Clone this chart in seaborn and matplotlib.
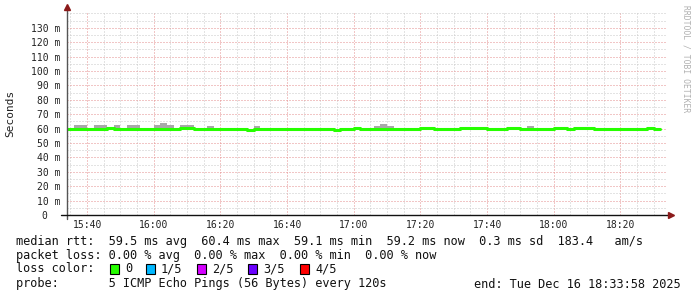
import matplotlib
matplotlib.use("Agg")
import matplotlib.pyplot as plt
import matplotlib.dates as mdates
from matplotlib.patches import Rectangle
import seaborn as sns
import pandas as pd
import numpy as np

# ---- data (ms), one value per 2-minute step ----
median_rtt = [
    59.9, 59.9, 59.9, 59.9, 59.9, 59.9, 60.4, 59.9, 59.9, 59.9,
    59.9, 59.9, 59.9, 59.9, 59.9, 59.9, 59.9, 60.4, 60.4, 59.9,
    59.9, 59.9, 59.9, 59.9, 59.9, 59.9, 59.9, 59.1, 59.9, 59.9,
    59.9, 59.9, 59.9, 59.9, 59.9, 59.9, 59.9, 59.9, 59.9, 59.9,
    59.1, 59.9, 59.9, 60.4, 59.9, 59.9, 59.9, 59.9, 59.9, 59.9,
    59.9, 59.9, 59.9, 60.4, 60.4, 59.9, 59.9, 59.9, 59.9, 60.4,
    60.4, 60.4, 60.4, 59.9, 59.9, 59.9, 60.4, 60.4, 59.9, 59.9,
    59.9, 59.9, 59.9, 60.4, 60.4, 59.9, 60.4, 60.4, 60.4, 59.9,
    59.9, 59.9, 59.9, 59.9, 59.9, 59.9, 59.9, 60.4, 59.9,
]
smoke_high = [
    60.7, 62.2, 62.2, 60.7, 62.2, 62.2, 61.2, 62.2, 60.7, 62.2,
    62.2, 60.7, 60.7, 62.2, 64.2, 62.2, 60.7, 62.4, 62.4, 60.7,
    60.7, 61.9, 60.7, 60.7, 60.7, 60.7, 60.7, 59.9, 61.9, 60.7,
    60.7, 60.7, 60.7, 60.7, 60.7, 60.7, 60.7, 60.7, 60.7, 60.7,
    59.9, 60.7, 60.7, 61.2, 60.7, 60.7, 61.9, 62.9, 61.9, 60.7,
    60.7, 60.7, 60.7, 61.2, 61.2, 60.7, 60.7, 60.7, 60.7, 61.2,
    61.2, 61.2, 61.2, 60.7, 60.7, 60.7, 61.2, 61.2, 60.7, 61.9,
    60.7, 60.7, 60.7, 61.2, 61.2, 60.7, 61.2, 61.2, 61.2, 60.7,
    60.7, 60.7, 60.7, 60.7, 60.7, 60.7, 60.7, 61.2, 60.7,
]
data_start = "2025-12-16 15:34:00"
view_start = "2025-12-16 15:33:58"
view_end = "2025-12-16 18:33:58"

y_major = [0, 10, 20, 30, 40, 50, 60, 70, 80, 90, 100, 110, 120, 130]
y_labels = ["0  ", "10 m", "20 m", "30 m", "40 m", "50 m", "60 m", "70 m",
            "80 m", "90 m", "100 m", "110 m", "120 m", "130 m"]
y_minor = [5, 15, 25, 35, 45, 55, 65, 75, 85, 95, 105, 115, 125, 135, 140]

legend_rows = [
    "median rtt:  59.5 ms avg  60.4 ms max  59.1 ms min  59.2 ms now  0.3 ms sd  183.4   am/s",
    "packet loss: 0.00 % avg  0.00 % max  0.00 % min  0.00 % now",
]
loss_labels = ["0", "1/5", "2/5", "3/5", "4/5"]
loss_colors = ["#26ff00", "#00b8ff", "#d400ff", "#6a00ff", "#ff0000"]
probe_text = "probe:       5 ICMP Echo Pings (56 Bytes) every 120s"
end_text = "end: Tue Dec 16 18:33:58 2025"

# ---- figure ----
sns.set_style("white")
plt.rcParams["font.family"] = ["DejaVu Sans Mono", "DejaVu Sans"]
W, H = 697, 297
fig = plt.figure(figsize=(W / 100, H / 100), dpi=100)
L, R, T, B = 67, 667, 13, 215
ax = fig.add_axes([L / W, 1 - B / H, (R - L) / W, (B - T) / H])

times = pd.date_range(data_start, periods=len(median_rtt) + 1, freq="2min")
med_ext = median_rtt + [median_rtt[-1]]
hi_ext = smoke_high + [smoke_high[-1]]
df = pd.DataFrame({"time": times, "median": med_ext, "high": hi_ext})

ax.fill_between(df["time"], df["median"], df["high"], step="post",
                color="#a8a8a8", lw=0, zorder=2)
sns.lineplot(data=df, x="time", y="median", drawstyle="steps-post",
             color="#26ff00", lw=2.2, ax=ax, zorder=3)

ax.set_xlim(pd.Timestamp(view_start), pd.Timestamp(view_end))
ax.set_ylim(0, 140.3)
ax.xaxis.set_major_locator(mdates.MinuteLocator(byminute=[0, 20, 40]))
ax.xaxis.set_minor_locator(mdates.MinuteLocator(byminute=range(0, 60, 5)))
ax.xaxis.set_major_formatter(mdates.DateFormatter("%H:%M"))
ax.set_yticks(y_major, y_labels)
ax.set_yticks(y_minor, minor=True)

ax.grid(which="major", color="#e58f8f", lw=0.72, ls=(0, (1, 2)), zorder=1)
ax.grid(which="minor", color="#c8c8c8", lw=0.72, ls=(0, (1, 2)), zorder=1)
ax.tick_params(which="both", length=0)
ax.tick_params(axis="y", pad=5, labelsize=7, labelcolor="#222222")
ax.tick_params(axis="x", pad=3.5, labelsize=7, labelcolor="#222222")
for s in ax.spines.values():
    s.set_visible(False)
ax.set_xlabel("")
ax.set_ylabel("")

# axis lines with arrows
pw, ph = R - L, B - T
ax.plot([0, 0], [-4 / ph, 1 + 6 / ph], transform=ax.transAxes, color="#555555",
        lw=1.0, clip_on=False, zorder=5)
ax.plot([-6 / pw, 1 + 3 / pw], [0, 0], transform=ax.transAxes, color="#111111",
        lw=1.0, clip_on=False, zorder=5)
ax.plot([0], [1 + 6 / ph], marker="^", ms=4, color="#8b1a1a",
        transform=ax.transAxes, clip_on=False, zorder=6)
ax.plot([1 + 4 / pw], [0], marker=">", ms=4, color="#8b1a1a",
        transform=ax.transAxes, clip_on=False, zorder=6)

# y label and watermark
fig.text(10 / W, 1 - 113 / H, "Seconds", rotation=90, ha="center", va="center",
         fontsize=8, color="#222222")
fig.text(686 / W, 1 - 59 / H, "RRDTOOL / TOBI OETIKER", rotation=270,
         ha="center", va="center", fontsize=5.8, color="#b0b0b0")

# legend text
fs = 8.55
fig.text(16 / W, 1 - 241 / H, legend_rows[0], ha="left", va="center", fontsize=fs, color="#111111")
fig.text(16 / W, 1 - 255 / H, legend_rows[1], ha="left", va="center", fontsize=fs, color="#111111")
fig.text(16 / W, 1 - 269 / H, "loss color:", ha="left", va="center", fontsize=fs, color="#111111")
label_x = [125, 161, 212, 263, 315]
for lx, lab, col in zip(label_x, loss_labels, loss_colors):
    fig.patches.append(Rectangle(((lx - 15) / W, 1 - 274 / H), 9 / W, 10 / H,
                                 transform=fig.transFigure, facecolor=col,
                                 edgecolor="#000000", lw=0.8))
    fig.text(lx / W, 1 - 269 / H, lab, ha="left", va="center", fontsize=fs, color="#111111")
fig.text(16 / W, 1 - 284 / H, probe_text, ha="left", va="center", fontsize=fs, color="#111111")
fig.text(681 / W, 1 - 284 / H, end_text, ha="right", va="center", fontsize=fs, color="#111111")

fig.savefig("out.png", dpi=100)
